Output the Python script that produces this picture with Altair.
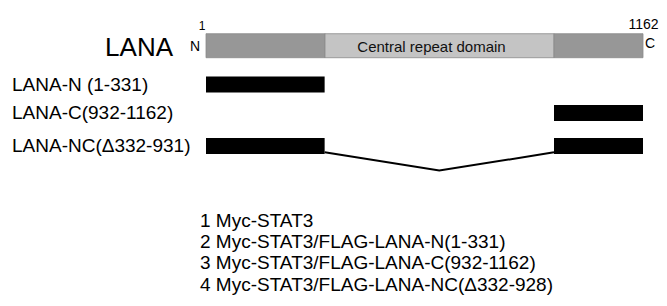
import altair as alt
import pandas as pd

FONT = "Liberation Sans"

# LANA protein domains (amino-acid positions)
domain_names = ["N-terminal", "Central repeat domain", "C-terminal"]
domain_start = [1, 332, 932]
domain_end = [332, 932, 1162]
domain_kind = ["terminal", "central", "terminal"]
domain_text = ["", "Central repeat domain", ""]

# constructs
construct_labels = ["LANA-N (1-331)", "LANA-C(932-1162)", "LANA-NC(\u0394332-931)"]
construct_rows = [1, 2, 3]
segment_row = [1, 2, 3, 3]
segment_start = [1, 932, 1, 932]
segment_end = [331, 1162, 331, 1162]

# splice connector of LANA-NC (deleted region 332-931)
connector_pos = [331, 631.5, 932]
connector_row = [3.085, 3.33, 3.085]

# protein ends
end_pos = [1, 1162]
end_number = ["1", "1162"]
end_letter = ["N", "C"]

# lane key
legend_lines = [
    "1 Myc-STAT3",
    "2 Myc-STAT3/FLAG-LANA-N(1-331)",
    "3 Myc-STAT3/FLAG-LANA-C(932-1162)",
    "4 Myc-STAT3/FLAG-LANA-NC(\u0394332-928)",
]
legend_rows = [4, 5, 6, 7]

x_scale = alt.Scale(domain=[1, 332, 932, 1162], range=[198, 317, 546, 635], zero=False, nice=False)
y_scale = alt.Scale(domain=[0, 1, 2, 3, 4, 7], range=[32, 76.5, 105, 138, 212.5, 280], zero=False, nice=False)

domains = pd.DataFrame({
    "name": domain_names, "start": domain_start, "end": domain_end,
    "kind": domain_kind, "text": domain_text, "row": [0] * len(domain_names),
})
domains["mid"] = (domains["start"] + domains["end"]) / 2

segments = pd.DataFrame({"row": segment_row, "start": segment_start, "end": segment_end})
labels = pd.DataFrame({"label": construct_labels, "row": construct_rows})
connector = pd.DataFrame({"pos": connector_pos, "row": connector_row, "seq": [0, 1, 2]})
ends = pd.DataFrame({"pos": end_pos, "num": end_number, "letter": end_letter, "row": [0, 0]})
legend = pd.DataFrame({"line": legend_lines, "row": legend_rows})

X = lambda f: alt.X(f"{f}:Q", scale=x_scale, axis=None)
Y = lambda f: alt.Y(f"{f}:Q", scale=y_scale, axis=None)

domain_bars = alt.Chart(domains).mark_bar(size=24, stroke="#8a8a8a", strokeWidth=0.8).encode(
    x=X("start"), x2="end", y=Y("row"),
    color=alt.Color("kind:N", scale=alt.Scale(domain=["terminal", "central"], range=["#979797", "#c4c4c4"]), legend=None),
)

domain_label = alt.Chart(domains).transform_filter("datum.text != ''").mark_text(
    font=FONT, fontSize=15, color="#111", dx=-8, dy=1, baseline="middle"
).encode(x=X("mid"), y=Y("row"), text="text:N")

seg_bars = alt.Chart(segments).mark_bar(size=16, color="black").encode(
    x=X("start"), x2="end", y=Y("row")
)

conn = alt.Chart(connector).mark_line(color="black", strokeWidth=2).encode(
    x=X("pos"), y=Y("row"), order="seq:Q"
)

construct_text = alt.Chart(labels).mark_text(
    font=FONT, fontSize=19, align="left", baseline="middle", color="black"
).encode(x=alt.value(4), y=Y("row"), text="label:N")

title = alt.Chart(pd.DataFrame({"t": ["LANA"], "row": [0]})).mark_text(
    font=FONT, fontSize=26, align="right", baseline="middle", color="black", dy=2
).encode(x=alt.value(165), y=Y("row"), text="t:N")

start_num = alt.Chart(ends).transform_filter("datum.pos == 1").mark_text(
    font=FONT, fontSize=12, align="center", baseline="middle", color="black", dx=-4, dy=-20
).encode(x=X("pos"), y=Y("row"), text="num:N")

end_num = alt.Chart(ends).transform_filter("datum.pos == 1162").mark_text(
    font=FONT, fontSize=14, align="right", baseline="middle", color="black", dx=15.5, dy=-21
).encode(x=X("pos"), y=Y("row"), text="num:N")

n_letter = alt.Chart(ends).transform_filter("datum.pos == 1").mark_text(
    font=FONT, fontSize=14, align="right", baseline="middle", color="black", dx=-6, dy=1
).encode(x=X("pos"), y=Y("row"), text="letter:N")

c_letter = alt.Chart(ends).transform_filter("datum.pos == 1162").mark_text(
    font=FONT, fontSize=14, align="left", baseline="middle", color="black", dx=2, dy=-1.5
).encode(x=X("pos"), y=Y("row"), text="letter:N")

legend_text = alt.Chart(legend).mark_text(
    font=FONT, fontSize=19, align="left", baseline="middle", color="black"
).encode(x=alt.value(192), y=Y("row"), text="line:N")

chart = alt.layer(
    domain_bars, domain_label, seg_bars, conn, construct_text, title,
    start_num, end_num, n_letter, c_letter, legend_text,
).properties(
    width=651, height=290, padding=0, autosize=alt.AutoSizeParams(type="none"), background="white"
).configure_view(stroke=None)

chart.save("out.html", embed_options={"renderer": "svg", "actions": False})
